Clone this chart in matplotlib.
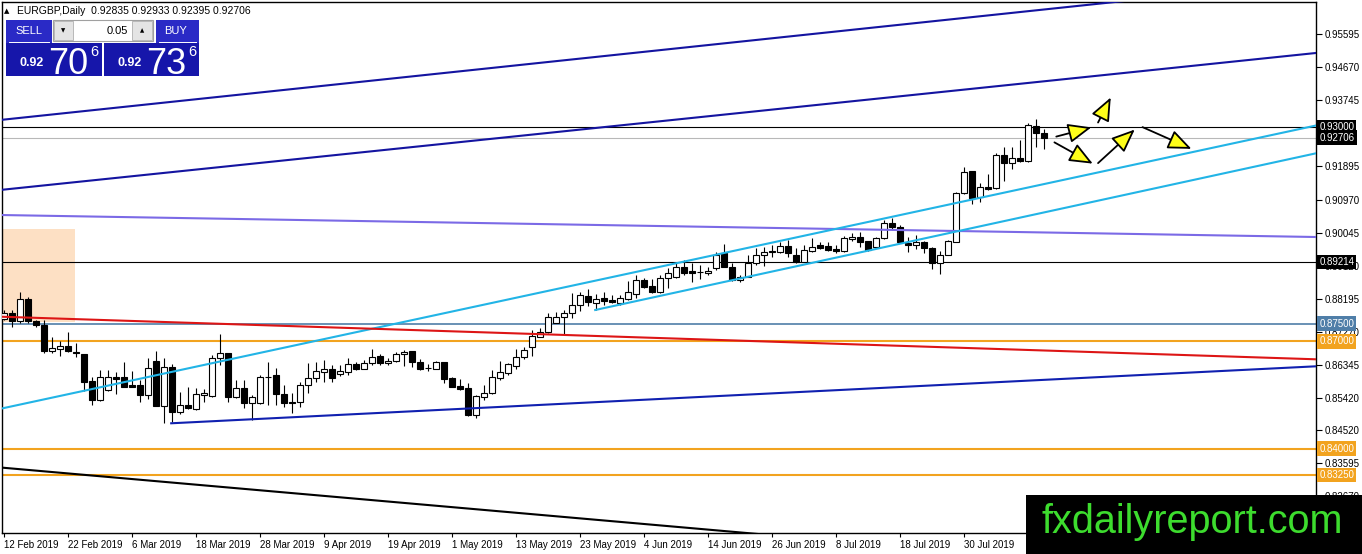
import numpy as np
import matplotlib.pyplot as plt
from matplotlib.patches import Rectangle, FancyArrowPatch
from matplotlib.transforms import blended_transform_factory

plt.rcParams['font.family'] = ['Liberation Sans', 'DejaVu Sans']

# daily candles EURGBP, 12 Feb 2019 .. 9 Aug 2019
opens = [0.8762, 0.8780, 0.8758, 0.8818, 0.8757, 0.8746, 0.8674, 0.8679, 0.8686, 0.8671,
         0.8666, 0.8589, 0.8536, 0.8563, 0.8600, 0.8599, 0.8577, 0.8577, 0.8549, 0.8646,
         0.8519, 0.8628, 0.8503, 0.8522, 0.8510, 0.8551, 0.8547, 0.8653, 0.8667, 0.8543,
         0.8570, 0.8527, 0.8527, 0.8599, 0.8605, 0.8553, 0.8531, 0.8530, 0.8578, 0.8597,
         0.8615, 0.8622, 0.8608, 0.8613, 0.8636, 0.8623, 0.8639, 0.8659, 0.8639, 0.8646,
         0.8666, 0.8674, 0.8641, 0.8626, 0.8623, 0.8643, 0.8597, 0.8575, 0.8569, 0.8494,
         0.8545, 0.8555, 0.8597, 0.8611, 0.8631, 0.8656, 0.8684, 0.8713, 0.8727, 0.8752,
         0.8769, 0.8778, 0.8802, 0.8827, 0.8808, 0.8820, 0.8816, 0.8808, 0.8819, 0.8833,
         0.8872, 0.8855, 0.8839, 0.8877, 0.8881, 0.8909, 0.8897, 0.8894, 0.8891, 0.8905,
         0.8947, 0.8909, 0.8872, 0.8881, 0.8919, 0.8942, 0.8952, 0.8951, 0.8967, 0.8942,
         0.8923, 0.8954, 0.8970, 0.8967, 0.8959, 0.8953, 0.8986, 0.8991, 0.8981, 0.8963,
         0.8988, 0.9030, 0.9021, 0.8976, 0.8970, 0.8977, 0.8960, 0.8918, 0.8943, 0.8979,
         0.9114, 0.9177, 0.9103, 0.9133, 0.9128, 0.9222, 0.9198, 0.9214, 0.9205, 0.9303,
         0.92835]
highs = [0.8788, 0.8788, 0.8837, 0.8825, 0.8760, 0.8760, 0.8713, 0.8701, 0.8726, 0.8696,
         0.8666, 0.8601, 0.8620, 0.8620, 0.8615, 0.8641, 0.8617, 0.8592, 0.8653, 0.8673,
         0.8653, 0.8636, 0.8559, 0.8573, 0.8569, 0.8567, 0.8662, 0.8721, 0.8667, 0.8592,
         0.8592, 0.8549, 0.8605, 0.8643, 0.8625, 0.8578, 0.8556, 0.8587, 0.8639, 0.8643,
         0.8648, 0.8634, 0.8634, 0.8653, 0.8643, 0.8648, 0.8678, 0.8665, 0.8653, 0.8671,
         0.8676, 0.8674, 0.8651, 0.8636, 0.8646, 0.8643, 0.8601, 0.8594, 0.8583, 0.8550,
         0.8578, 0.8620, 0.8646, 0.8639, 0.8679, 0.8683, 0.8732, 0.8737, 0.8778, 0.8783,
         0.8788, 0.8835, 0.8839, 0.8846, 0.8833, 0.8839, 0.8830, 0.8830, 0.8869, 0.8886,
         0.8877, 0.8874, 0.8886, 0.8905, 0.8923, 0.8928, 0.8919, 0.8914, 0.8909, 0.8951,
         0.8973, 0.8919, 0.8886, 0.8942, 0.8961, 0.8965, 0.8970, 0.8979, 0.8984, 0.8960,
         0.8970, 0.8988, 0.8979, 0.8979, 0.8970, 0.8995, 0.9004, 0.9007, 0.8982, 0.8993,
         0.9040, 0.9046, 0.9026, 0.8993, 0.8998, 0.8982, 0.8963, 0.8953, 0.8984, 0.9117,
         0.9187, 0.9177, 0.9142, 0.9168, 0.9228, 0.9245, 0.9243, 0.9264, 0.9312, 0.9322,
         0.92933]
lows = [0.8760, 0.8741, 0.8751, 0.8751, 0.8739, 0.8668, 0.8668, 0.8659, 0.8669, 0.8656,
        0.8562, 0.8522, 0.8533, 0.8562, 0.8552, 0.8571, 0.8571, 0.8531, 0.8540, 0.8519,
        0.8472, 0.8475, 0.8497, 0.8510, 0.8508, 0.8530, 0.8545, 0.8634, 0.8531, 0.8542,
        0.8514, 0.8480, 0.8525, 0.8522, 0.8522, 0.8517, 0.8499, 0.8515, 0.8555, 0.8586,
        0.8587, 0.8587, 0.8603, 0.8605, 0.8620, 0.8622, 0.8634, 0.8634, 0.8634, 0.8643,
        0.8631, 0.8627, 0.8620, 0.8618, 0.8622, 0.8584, 0.8571, 0.8564, 0.8492, 0.8485,
        0.8536, 0.8553, 0.8592, 0.8605, 0.8622, 0.8650, 0.8659, 0.8712, 0.8723, 0.8751,
        0.8718, 0.8765, 0.8786, 0.8799, 0.8788, 0.8802, 0.8807, 0.8802, 0.8816, 0.8820,
        0.8849, 0.8836, 0.8835, 0.8849, 0.8877, 0.8886, 0.8867, 0.8874, 0.8886, 0.8900,
        0.8907, 0.8870, 0.8867, 0.8879, 0.8914, 0.8912, 0.8937, 0.8947, 0.8935, 0.8918,
        0.8921, 0.8951, 0.8958, 0.8954, 0.8948, 0.8951, 0.8982, 0.8963, 0.8954, 0.8961,
        0.8986, 0.9012, 0.8976, 0.8951, 0.8958, 0.8948, 0.8902, 0.8888, 0.8941, 0.8977,
        0.9112, 0.9085, 0.9091, 0.9124, 0.9126, 0.9150, 0.9182, 0.9203, 0.9201, 0.9243,
        0.92395]
closes = [0.8780, 0.8758, 0.8818, 0.8758, 0.8746, 0.8674, 0.8682, 0.8686, 0.8673, 0.8667,
          0.8587, 0.8536, 0.8599, 0.8599, 0.8595, 0.8573, 0.8573, 0.8549, 0.8625, 0.8519,
          0.8628, 0.8503, 0.8522, 0.8513, 0.8553, 0.8555, 0.8653, 0.8667, 0.8545, 0.8570,
          0.8527, 0.8545, 0.8599, 0.8600, 0.8553, 0.8527, 0.8527, 0.8578, 0.8597, 0.8617,
          0.8622, 0.8597, 0.8617, 0.8636, 0.8623, 0.8639, 0.8657, 0.8639, 0.8646, 0.8666,
          0.8671, 0.8641, 0.8623, 0.8625, 0.8643, 0.8595, 0.8573, 0.8567, 0.8494, 0.8547,
          0.8555, 0.8599, 0.8615, 0.8636, 0.8657, 0.8676, 0.8715, 0.8727, 0.8769, 0.8769,
          0.8778, 0.8802, 0.8830, 0.8809, 0.8819, 0.8814, 0.8810, 0.8820, 0.8839, 0.8872,
          0.8853, 0.8839, 0.8877, 0.8892, 0.8909, 0.8892, 0.8891, 0.8893, 0.8898, 0.8942,
          0.8909, 0.8872, 0.8881, 0.8919, 0.8942, 0.8951, 0.8951, 0.8967, 0.8947, 0.8923,
          0.8956, 0.8965, 0.8962, 0.8956, 0.8952, 0.8988, 0.8991, 0.8979, 0.8956, 0.8988,
          0.9030, 0.9021, 0.8979, 0.8970, 0.8977, 0.8960, 0.8918, 0.8943, 0.8981, 0.9114,
          0.9175, 0.9100, 0.9133, 0.9127, 0.9222, 0.9198, 0.9214, 0.9206, 0.9306, 0.9282,
          0.92706]

date_labels = ['12 Feb 2019', '22 Feb 2019', '6 Mar 2019', '18 Mar 2019', '28 Mar 2019',
               '9 Apr 2019', '19 Apr 2019', '1 May 2019', '13 May 2019', '23 May 2019',
               '4 Jun 2019', '14 Jun 2019', '26 Jun 2019', '8 Jul 2019', '18 Jul 2019',
               '30 Jul 2019']
date_bars = list(range(0, 121, 8))

price_ticks = [0.95595, 0.94670, 0.93745, 0.91895, 0.90970, 0.90045, 0.89120,
               0.88195, 0.87270, 0.86345, 0.85420, 0.84520, 0.83595, 0.82670]

# horizontal levels
black_levels = [0.93000, 0.89214]
bid_price = 0.92706
blue_level = 0.87500
orange_levels = [0.87000, 0.84000, 0.83250]

# trend lines as (bar, price) end points
upper_line_1 = [(-0.5, 0.93196), (164, 0.97095)]
upper_line_2 = [(-0.5, 0.91237), (164, 0.95072)]
purple_line = [(-0.5, 0.90537), (164, 0.89921)]
cyan_long = [(-0.16, 0.85127), (164, 0.93042)]
cyan_channel = [(73.9, 0.87878), (164, 0.92264)]
support_line = [(20.9, 0.84707), (164, 0.86302)]
red_line = [(-0.5, 0.87691), (164, 0.86498)]
black_line = [(-0.16, 0.83464), (164, 0.80237)]

# shaded zone (bar from, bar to, price low, price high)
zone = (-0.25, 8.9, 0.87542, 0.90146)

# projected path arrows
arrows = [((131.2, 0.92712), (136.25, 0.93009)),
          ((136.6, 0.93056), (138.5, 0.93896)),
          ((131.0, 0.92608), (136.4, 0.91937)),
          ((136.5, 0.91937), (141.6, 0.92981)),
          ((142.0, 0.93028), (148.75, 0.92357))]

W, H = 1362, 554
fig = plt.figure(figsize=(W / 100, H / 100), dpi=100)
ax = fig.add_axes([2 / W, (H - 533) / H, 1314 / W, 531 / H])
ax.set_xlim(-0.25, 164)
ax.set_ylim(0.81636, 0.96499)

o, h, l, c = map(np.array, (opens, highs, lows, closes))
x = np.arange(len(o))
up = c >= o
bottom = np.minimum(o, c)
height = np.maximum(np.abs(c - o), 0.00004)

ax.add_patch(Rectangle((zone[0], zone[2]), zone[1] - zone[0], zone[3] - zone[2],
                       facecolor='#fde0c4', edgecolor='none', zorder=1))

ax.vlines(x, l, h, color='black', lw=0.8, zorder=3)
ax.bar(x[up], height[up], bottom=bottom[up], width=0.64, color='white',
       edgecolor='black', lw=0.8, zorder=4)
ax.bar(x[~up], height[~up], bottom=bottom[~up], width=0.64, color='black',
       edgecolor='black', lw=0.8, zorder=4)

for lv in black_levels:
    ax.axhline(lv, color='black', lw=0.8, zorder=2)
ax.axhline(bid_price, color='#b8b8b8', lw=0.8, zorder=2)
ax.axhline(blue_level, color='#4f7ea8', lw=1.2, zorder=2)
for lv in orange_levels:
    ax.axhline(lv, color='#f2a31f', lw=1.5, zorder=2)

lines = [(upper_line_1, '#1414a0'), (upper_line_2, '#1414a0'),
         (purple_line, '#7b6ae6'), (cyan_long, '#22b4e6'),
         (cyan_channel, '#22b4e6'), (support_line, '#1020b0'),
         (red_line, '#dd1515'), (black_line, 'black')]
for pts, col in lines:
    xs, ys = zip(*pts)
    ax.plot(xs, ys, color=col, lw=1.5, zorder=5)

for start, end in arrows:
    ax.add_patch(FancyArrowPatch(start, end,
                                 arrowstyle='-|>,head_length=1.2,head_width=0.5',
                                 mutation_scale=12, facecolor='#ffff1a',
                                 edgecolor='black', lw=1.3, zorder=6))

# axes look
for sp in ax.spines.values():
    sp.set_linewidth(1.0)
ax.yaxis.tick_right()
ax.set_yticks(price_ticks)
ax.set_yticklabels([f'{p:.5f}' for p in price_ticks])
ax.tick_params(axis='y', length=4, width=0.8, pad=2, labelsize=7)
ax.set_xticks(date_bars)
ax.set_xticklabels(date_labels, ha='left')
ax.tick_params(axis='x', length=3, width=0.8, pad=2, labelsize=7)

# boxed price labels on the right scale
tr = blended_transform_factory(ax.transAxes, ax.transData)
boxed = [(0.93000, 'black'), (bid_price, 'black'), (0.89214, 'black'),
         (blue_level, '#4f7ea8')] + [(lv, '#f2a31f') for lv in orange_levels]
for val, col in boxed:
    ax.text(1.0025, val, f'{val:.5f}', transform=tr, ha='left', va='center',
            fontsize=7, color='white', clip_on=False, zorder=10,
            bbox=dict(boxstyle='square,pad=0.22', fc=col, ec='none'))

# overlay in pixel coordinates
ov = fig.add_axes([0, 0, 1, 1], zorder=20)
ov.set_xlim(0, W)
ov.set_ylim(H, 0)
ov.axis('off')

ov.text(4, 11, '\u25b2', fontsize=5, va='center', ha='left', family=['DejaVu Sans'])
ov.text(17, 11, 'EURGBP,Daily  0.92835 0.92933 0.92395 0.92706', fontsize=7.5,
        va='center', ha='left')

panel_dark = '#1616aa'
panel_top = '#2a2ac6'
# sell
ov.add_patch(Rectangle((6, 43), 96, 33, fc=panel_dark, ec='none'))
ov.add_patch(Rectangle((6, 20), 46, 23, fc=panel_top, ec='none'))
ov.plot([9, 49], [41.5, 41.5], color='white', lw=0.7)
ov.text(29, 30.5, 'SELL', color='white', fontsize=8, ha='center', va='center')
# buy
ov.add_patch(Rectangle((104, 43), 95, 33, fc=panel_dark, ec='none'))
ov.add_patch(Rectangle((156, 20), 43, 23, fc=panel_top, ec='none'))
ov.plot([159, 196], [41.5, 41.5], color='white', lw=0.7)
ov.text(176, 30.5, 'BUY', color='white', fontsize=8, ha='center', va='center')
# lot spinner
ov.add_patch(Rectangle((53, 20), 100, 21, fc='white', ec='#a0a0a0', lw=0.8))
ov.add_patch(Rectangle((54, 21), 19, 19, fc='#e4e4e4', ec='#b0b0b0', lw=0.6))
ov.add_patch(Rectangle((132, 21), 20, 19, fc='#e4e4e4', ec='#b0b0b0', lw=0.6))
ov.text(63.5, 30.5, '\u25bc', fontsize=4, ha='center', va='center', family=['DejaVu Sans'])
ov.text(142, 30.5, '\u25b2', fontsize=4, ha='center', va='center', family=['DejaVu Sans'])
ov.text(128, 30.5, '0.05', fontsize=8, ha='right', va='center')
# quotes
for x0, big in [(20, '70'), (118, '73')]:
    ov.text(x0, 66, '0.92', color='white', fontsize=9, fontweight='bold',
            ha='left', va='baseline')
    ov.text(x0 + 28, 74, big, color='white', fontsize=26, ha='left', va='baseline')
    ov.text(x0 + 70, 56, '6', color='white', fontsize=10.5, ha='left', va='baseline')

# watermark
ov.add_patch(Rectangle((1026, 495), W - 1026, H - 495, fc='black', ec='none'))
ov.text(1041, 533, 'fxdailyreport.com', color='#3ddc2e', fontsize=28.5,
        ha='left', va='baseline')

fig.savefig('out.png', dpi=100)
